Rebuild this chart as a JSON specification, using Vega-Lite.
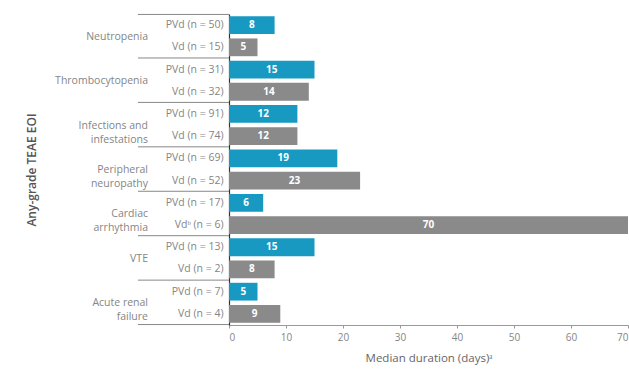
{
  "$schema": "https://vega.github.io/schema/vega-lite/v6.json",
  "width": 399,
  "height": 311,
  "autosize": {"type": "none"},
  "padding": {"left": 229, "top": 14, "right": 1, "bottom": 48},
  "background": "white",
  "config": {
    "font": "Open Sans",
    "view": {"stroke": null},
    "axis": {"labelFont": "Open Sans", "titleFont": "Open Sans", "labelColor": "#858585", "titleColor": "#666", "labelFontSize": 10.5, "titleFontSize": 11, "titleFontWeight": "normal"}
  },
  "data": {
    "values": [
      {"group": "Neutropenia", "arm": "PVd (n = 50)", "regimen": "PVd", "days": 8, "first": true},
      {"group": "Neutropenia", "arm": "Vd (n = 15)", "regimen": "Vd", "days": 5, "first": false},
      {"group": "Thrombocytopenia", "arm": "PVd (n = 31)", "regimen": "PVd", "days": 15, "first": false},
      {"group": "Thrombocytopenia", "arm": "Vd (n = 32)", "regimen": "Vd", "days": 14, "first": false},
      {"group": "Infections and\ninfestations", "arm": "PVd (n = 91)", "regimen": "PVd", "days": 12, "first": false},
      {"group": "Infections and\ninfestations", "arm": "Vd (n = 74)", "regimen": "Vd", "days": 12, "first": false},
      {"group": "Peripheral\nneuropathy", "arm": "PVd (n = 69)", "regimen": "PVd", "days": 19, "first": false},
      {"group": "Peripheral\nneuropathy", "arm": "Vd (n = 52)", "regimen": "Vd", "days": 23, "first": false},
      {"group": "Cardiac\narrhythmia", "arm": "PVd (n = 17)", "regimen": "PVd", "days": 6, "first": false},
      {"group": "Cardiac\narrhythmia", "arm": "Vdᵇ (n = 6)", "regimen": "Vd", "days": 70, "first": false},
      {"group": "VTE", "arm": "PVd (n = 13)", "regimen": "PVd", "days": 15, "first": false},
      {"group": "VTE", "arm": "Vd (n = 2)", "regimen": "Vd", "days": 8, "first": false},
      {"group": "Acute renal\nfailure", "arm": "PVd (n = 7)", "regimen": "PVd", "days": 5, "first": false},
      {"group": "Acute renal\nfailure", "arm": "Vd (n = 4)", "regimen": "Vd", "days": 9, "first": false}
    ]
  },
  "encoding": {
    "y": {
      "field": "arm", "type": "nominal", "sort": null,
      "scale": {"paddingInner": 0.2, "paddingOuter": 0.1},
      "axis": {"title": "Any-grade TEAE EOI", "titleFontSize": 12, "titleFontWeight": 600, "titleColor": "#555", "titlePadding": 127, "labelPadding": 6, "labelFontSize": 10.5, "ticks": false, "domainColor": "#333", "domainWidth": 1.2}
    }
  },
  "layer": [
    {
      "mark": {"type": "bar"},
      "encoding": {
        "x": {"field": "days", "type": "quantitative", "scale": {"domain": [0, 70], "nice": false},
          "axis": {"title": "Median duration (days)ᵃ", "values": [0, 10, 20, 30, 40, 50, 60, 70], "grid": false, "domainColor": "#999", "tickColor": "#999", "tickSize": 3, "labelPadding": 4, "labelFontSize": 10, "titleFontSize": 11.5, "titlePadding": 10}},
        "color": {"field": "regimen", "type": "nominal", "scale": {"domain": ["PVd", "Vd"], "range": ["#1799c2", "#8a8a8a"]}, "legend": null}
      }
    },
    {
      "transform": [{"calculate": "datum.days / 2", "as": "mid"}],
      "mark": {"type": "text", "color": "white", "fontWeight": "bold", "fontSize": 10, "align": "center", "baseline": "middle"},
      "encoding": {
        "x": {"field": "mid", "type": "quantitative"},
        "text": {"field": "days", "type": "quantitative"}
      }
    },
    {
      "transform": [{"filter": "datum.regimen == 'Vd'"}],
      "mark": {"type": "text", "align": "right", "baseline": "middle", "fontSize": 10.5, "color": "#858585", "lineBreak": "\n", "dx": -81, "lineHeight": 14},
      "encoding": {
        "y": {"field": "arm", "type": "nominal", "sort": null, "bandPosition": -0.1},
        "x": {"datum": 0},
        "text": {"field": "group"}
      }
    },
    {
      "transform": [{"filter": "datum.regimen == 'Vd'"}],
      "mark": {"type": "rule", "color": "#888", "strokeWidth": 1, "x2Offset": -91},
      "encoding": {
        "y": {"field": "arm", "type": "nominal", "sort": null, "bandPosition": 1.1},
        "x": {"datum": 0},
        "x2": {"datum": 0}
      }
    },
    {
      "transform": [{"filter": "datum.first"}],
      "mark": {"type": "rule", "color": "#888", "strokeWidth": 1, "x2Offset": -91},
      "encoding": {
        "y": {"field": "arm", "type": "nominal", "sort": null, "bandPosition": -0.1},
        "x": {"datum": 0},
        "x2": {"datum": 0}
      }
    }
  ]
}
